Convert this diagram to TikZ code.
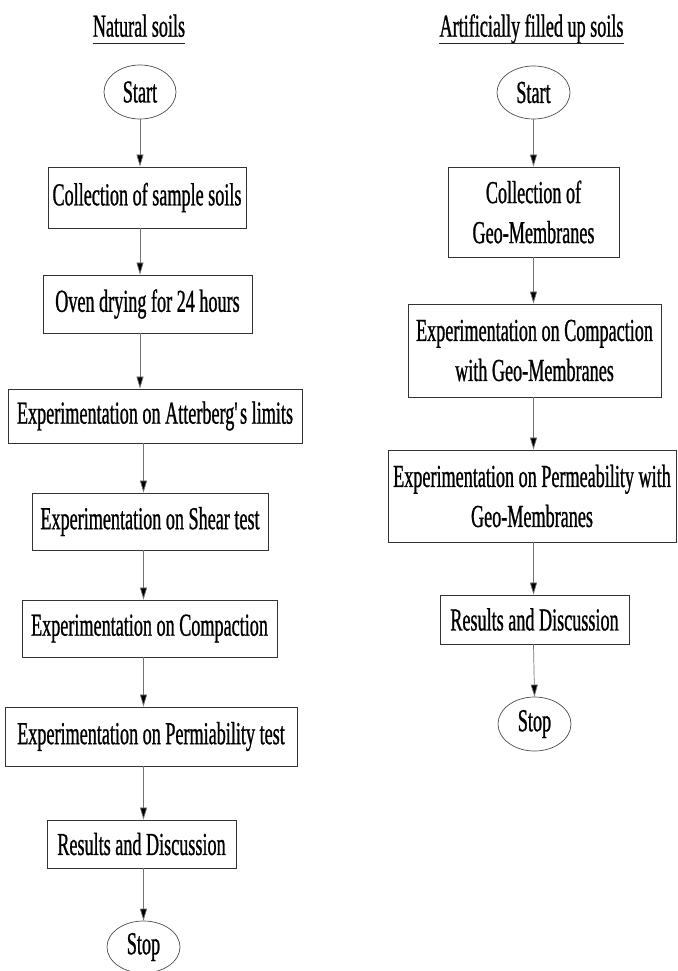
\documentclass[tikz,border=0pt]{standalone}
\usepackage{fontspec}
\setmainfont[FakeStretch=0.567,FakeBold=0.8]{Liberation Serif}
\usetikzlibrary{shapes.geometric,arrows.meta}
\begin{document}
\begin{tikzpicture}[x=1pt,y=-1pt,
  every node/.style={font=\fontsize{32}{40}\selectfont},
  box/.style={draw=black!80, line width=0.9pt, inner sep=0pt, align=center},
  term/.style={ellipse, draw=black!70, line width=0.7pt, inner sep=0pt},
  arr/.style={draw=black!55, line width=0.7pt, -{Triangle[length=12pt,width=7pt,fill=black]}},
  ttl/.style={inner sep=0pt, anchor=base},
  uline/.style={draw=black!85, line width=0.8pt}]
\path[use as bounding box] (0,0) rectangle (677,971);
% Left column
\node[ttl] (t1) at (139,36.7) {Natural soils};
\draw[uline] ([yshift=-7pt]t1.base west) -- ([yshift=-7pt]t1.base east);
\node[term, minimum width=72pt, minimum height=54pt] (s1) at (140,92) {Start};
\node[box, minimum width=198pt, minimum height=61pt] (b1) at (147,197.5) {Collection of sample soils};
\node[box, minimum width=209pt, minimum height=58pt] (b2) at (147.5,304) {Oven drying for 24 hours};
\node[box, minimum width=294pt, minimum height=54pt] (b3) at (155,416) {Experimentation on Atterberg\textquotesingle s limits};
\node[box, minimum width=236pt, minimum height=57pt] (b4) at (150,521.5) {Experimentation on Shear test};
\node[box, minimum width=255pt, minimum height=57pt] (b5) at (149.5,628.5) {Experimentation on Compaction};
\node[box, minimum width=292pt, minimum height=59pt] (b6) at (151,736.5) {Experimentation on Permiability test};
\node[box, minimum width=189pt, minimum height=48pt] (b7) at (141.5,844) {Results and Discussion};
\node[term, minimum width=73pt, minimum height=52pt] (e2) at (143.5,947) {Stop};
\draw[arr] (s1.south) -- (s1.south |- b1.north);
\draw[arr] (b1.south -| s1) -- (b2.north -| s1);
\draw[arr] (b2.south -| s1) -- (b3.north -| s1);
\draw[arr] (b3.south -| e2) -- (b4.north -| e2);
\draw[arr] (b4.south -| e2) -- (b5.north -| e2);
\draw[arr] (b5.south -| e2) -- (b6.north -| e2);
\draw[arr] (b6.south -| e2) -- (b7.north -| e2);
\draw[arr] (b7.south -| e2) -- (e2.north);
% Right column
\node[ttl] (t2) at (531.5,36.7) {Artificially filled up soils};
\draw[uline] ([yshift=-7pt]t2.base west) -- ([yshift=-7pt]t2.base east);
\node[term, minimum width=73pt, minimum height=53pt] (s2) at (533.5,92.5) {Start};
\node[box, minimum width=171pt, minimum height=90pt] (r1) at (533.5,212) {Collection of\\Geo-Membranes};
\node[box, minimum width=253pt, minimum height=93pt] (r2) at (534.5,350.5) {Experimentation on Compaction\\with Geo-Membranes};
\node[box, minimum width=288pt, minimum height=92pt] (r3) at (532,496) {Experimentation on Permeability with\\Geo-Membranes};
\node[box, minimum width=189pt, minimum height=49pt] (r4) at (534.5,619.5) {Results and Discussion};
\node[term, minimum width=73pt, minimum height=54pt] (e4) at (534.5,724) {Stop};
\draw[arr] (s2.south) -- (s2.south |- r1.north);
\draw[arr] (r1.south -| s2) -- (r2.north -| s2);
\draw[arr] (r2.south -| s2) -- (r3.north -| s2);
\draw[arr] (r3.south -| s2) -- (r4.north -| s2);
\draw[arr] (r4.south -| s2) -- (e4.north);
\end{tikzpicture}
\end{document}
